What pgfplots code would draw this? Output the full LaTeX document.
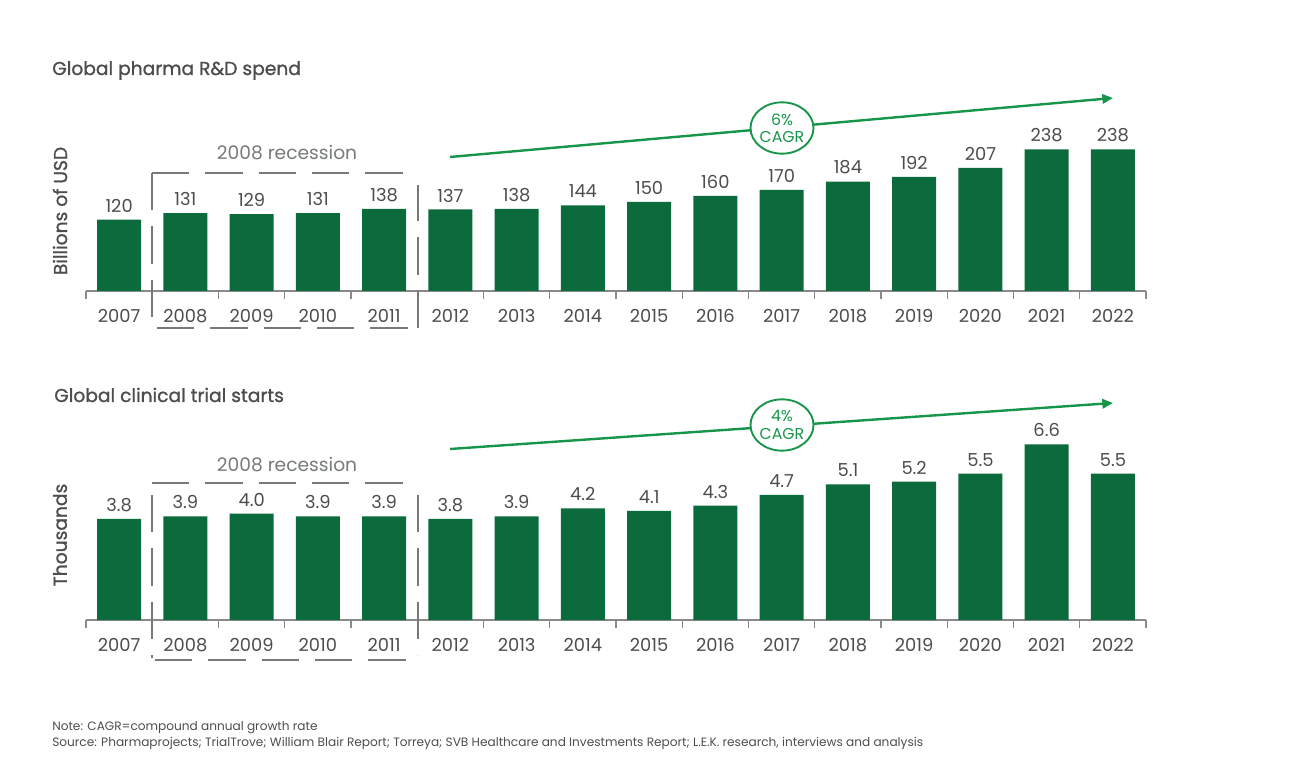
\documentclass[border=0pt]{standalone}
\usepackage{fontspec}
\setmainfont{Poppins}
\newfontfamily\medfont{Poppins}[FakeBold=1.1]
\usepackage{pgfplots}
\pgfplotsset{compat=1.18}
\usetikzlibrary{arrows.meta, shapes.geometric}

\definecolor{bargreen}{HTML}{0B6B3C}
\definecolor{linegreen}{HTML}{17954A}
\definecolor{txtgray}{HTML}{4D4D4D}
\definecolor{boxgray}{HTML}{767B78}
\definecolor{axgray}{HTML}{8A8A8A}

\pgfplotsset{
  yearbars/.style={
    scale only axis,
    width=795pt,
    xmin=-0.5, xmax=15.5,
    ymin=0,
    enlargelimits=false,
    clip=false,
    axis x line*=bottom,
    axis y line=none,
    axis line style={axgray, line width=0.9pt},
    xtick={0,...,15},
    xticklabels={2007,2008,2009,2010,2011,2012,2013,2014,2015,2016,2017,2018,2019,2020,2021,2022},
    minor xtick={-0.5,0.5,...,15.5},
    major tick length=0pt,
    minor tick length=6pt,
    tick align=outside,
    minor tick style={axgray, line width=0.9pt},
    xticklabel style={font=\fontsize{13.4}{15}\selectfont, text=txtgray,
      text height=9.6pt, text depth=0pt, yshift=-10.5pt},
    ybar, bar width=33pt,
    nodes near coords,
    nodes near coords style={font=\fontsize{13.4}{15}\selectfont, text=txtgray, anchor=south, yshift=2pt},
    /pgf/number format/assume math mode=true,
  }
}

\begin{document}
\begin{tikzpicture}
\path[use as bounding box] (0,0) rectangle (975pt,-579.75pt);

% top chart: R&D spend (billions of USD)
\begin{axis}[yearbars, height=111.56pt, ymax=250,
  at={(64.5pt,-218.25pt)}, anchor=south west]
\addplot[fill=bargreen, draw=none] coordinates {
(0,120) (1,131) (2,129) (3,131) (4,138) (5,137) (6,138) (7,144)
(8,150) (9,160) (10,170) (11,184) (12,192) (13,207) (14,238) (15,238)
};
\end{axis}

% bottom chart: clinical trial starts (thousands)
\begin{axis}[yearbars, height=139.65pt, ymax=7,
  at={(64.5pt,-465pt)}, anchor=south west,
  /pgf/number format/.cd, fixed, fixed zerofill, precision=1]
\addplot[fill=bargreen, draw=none] coordinates {
(0,3.8) (1,3.9) (2,4.0) (3,3.9) (4,3.9) (5,3.8) (6,3.9) (7,4.2)
(8,4.1) (9,4.3) (10,4.7) (11,5.1) (12,5.2) (13,5.5) (14,6.6) (15,5.5)
};
\end{axis}

\begin{scope}[x=0.75pt, y=-0.75pt]
% titles and axis names
\node[anchor=base west, inner sep=0pt, text=txtgray, font=\medfont\fontsize{14}{16}\selectfont] at (52,75) {Global pharma R\&D spend};
\node[anchor=base west, inner sep=0pt, text=txtgray, font=\medfont\fontsize{14}{16}\selectfont] at (54,402) {Global clinical trial starts};
\node[rotate=90, text=txtgray, font=\medfont\fontsize{14}{16}\selectfont] at (60,211) {Billions of USD};
\node[rotate=90, text=txtgray, font=\medfont\fontsize{14}{16}\selectfont] at (60,535) {Thousands};

% recession boxes
\begin{scope}[draw=boxgray, line width=1.5pt, dash pattern=on 28pt off 12pt]
\draw (152,173) -- (413,173);
\draw (152,173) -- (152,328) -- (418,328);
\draw (418,328) -- (418,185);
\draw (152,483) -- (413,483);
\draw (152,495) -- (152,658);
\draw (155,660) -- (415,660);
\draw (418,495) -- (418,655);
\end{scope}
\node[text=boxgray, font=\fontsize{14}{16}\selectfont] at (287,153) {2008 recession};
\node[text=boxgray, font=\fontsize{14}{16}\selectfont] at (287,465) {2008 recession};

% CAGR arrows
\draw[linegreen, line width=1.8pt, -{Triangle[length=8pt, width=7pt]}] (450,157) -- (1113,98);
\draw[linegreen, line width=1.8pt, -{Triangle[length=8pt, width=7pt]}] (450,449) -- (1113,403);
\node[ellipse, draw=linegreen, line width=1.4pt, fill=white, minimum width=47pt, minimum height=38.5pt, inner sep=0pt,
  text=linegreen, font=\fontsize{11.8}{13}\selectfont, align=center] at (782,128) {6\%\\CAGR};
\node[ellipse, draw=linegreen, line width=1.4pt, fill=white, minimum width=47pt, minimum height=38.5pt, inner sep=0pt,
  text=linegreen, font=\fontsize{11.8}{13}\selectfont, align=center] at (782,425) {4\%\\CAGR};

% footnotes
\node[anchor=base west, inner sep=0pt, text=txtgray, font=\fontsize{9.1}{10}\selectfont] at (52,730) {Note: CAGR=compound annual growth rate};
\node[anchor=base west, inner sep=0pt, text=txtgray, font=\fontsize{9.1}{10}\selectfont] at (52,746) {Source: Pharmaprojects; TrialTrove; William Blair Report; Torreya; SVB Healthcare and Investments Report; L.E.K. research, interviews and analysis};
\end{scope}
\end{tikzpicture}
\end{document}
